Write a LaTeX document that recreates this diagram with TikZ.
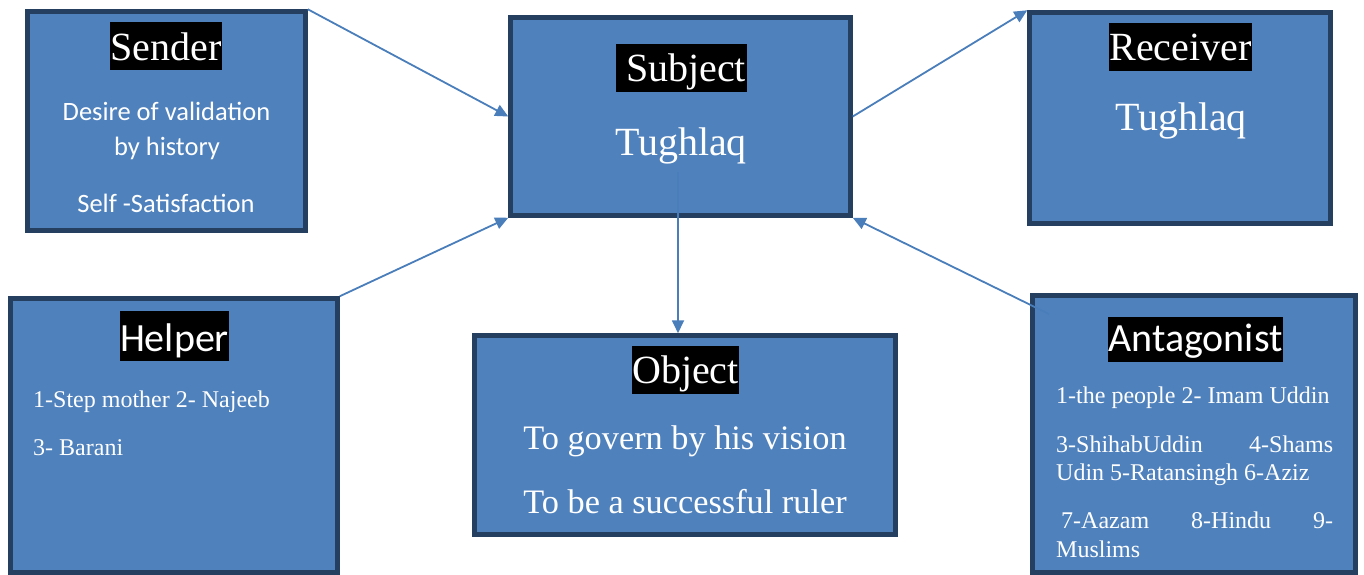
\documentclass[tikz,border=0pt]{standalone}
\usepackage{fontspec}
\setmainfont{Liberation Serif}
\newfontfamily\calfont{Carlito}
\usetikzlibrary{arrows.meta}
\definecolor{boxfill}{HTML}{4F81BD}
\definecolor{boxline}{HTML}{243F60}
\definecolor{arrowc}{HTML}{4A7EBB}
\tikzset{
  actbox/.style={draw=boxline, fill=boxfill, line width=4.5pt, rectangle, inner sep=0pt},
  titlebox/.style={fill=black, text=white, inner xsep=0.5pt, inner ysep=0pt, anchor=base},
  bodytxt/.style={text=white, inner sep=0pt, anchor=base},
  conn/.style={draw=arrowc, line width=1.8pt, -{Triangle[length=13pt,width=12pt]}, shorten >=0pt},
}
\newcommand{\fsz}[1]{\fontsize{#1}{#1}\selectfont}
\begin{document}
\begin{tikzpicture}[x=1pt,y=-1pt]
\useasboundingbox (0,0) rectangle (1364,575);
% boxes
\node[actbox, minimum width=278pt, minimum height=219pt] (sender) at (166.5,121) {};
\node[actbox, minimum width=340pt, minimum height=198pt] (subject) at (680.5,116.5) {};
\node[actbox, minimum width=301pt, minimum height=211pt] (receiver) at (1180,118) {};
\node[actbox, minimum width=327pt, minimum height=274pt] (helper) at (174,435.5) {};
\node[actbox, minimum width=421pt, minimum height=199pt] (object) at (685,435) {};
\node[actbox, minimum width=323pt, minimum height=277pt] (antag) at (1194,434) {};
% titles
\node[titlebox, text height=39pt, text depth=9pt] (tsender) at (166,61) {\fsz{40}Sender};
\node[titlebox, text height=38pt, text depth=10pt] (tsubject) at (681,82) {\fsz{40}\hspace{10pt}Subject};
\node[titlebox, text height=38pt, text depth=10pt] (treceiver) at (1180.5,61) {\fsz{40}Receiver};
\node[titlebox, text height=37pt, text depth=11pt] (tobject) at (685.5,383) {\fsz{40}Object};
\node[titlebox, text height=40pt, text depth=10pt] (thelper) at (174.5,351) {\calfont\fsz{40}Helper};
\node[titlebox, text height=34pt, text depth=11pt] (tantag) at (1195.5,351) {\calfont\fsz{40}Antagonist};
% sender body
\node[bodytxt] (s1) at (166.5,121) {\calfont\fsz{26.5}Desire of validation};
\node[bodytxt] (s2) at (167,155) {\calfont\fsz{26.5}by history};
\node[bodytxt] (s3) at (166,212) {\calfont\fsz{26.5}Self -Satisfaction};
% subject / receiver body
\node[bodytxt] (sub1) at (681,155) {\fsz{40}Tughlaq};
\node[bodytxt] (rec1) at (1181,130) {\fsz{40}Tughlaq};
% object body
\node[bodytxt] (o1) at (685,449) {\fsz{34.3}To govern by his vision};
\node[bodytxt] (o2) at (685,513) {\fsz{34.3}To be a successful ruler};
% helper body
\node[bodytxt, anchor=base west] (h1) at (33,407) {\fsz{24}1-Step mother 2- Najeeb};
\node[bodytxt, anchor=base west] (h2) at (33,455) {\fsz{24}3- Barani};
% antagonist body
\node[bodytxt, anchor=base west] (a1) at (1056,403) {\fsz{24}1-the people 2- Imam Uddin};
\node[bodytxt, anchor=base west] (a2) at (1056,452) {\fsz{24}\makebox[277pt][l]{3-ShihabUddin\hfill 4-Shams}};
\node[bodytxt, anchor=base west] (a3) at (1056,480) {\fsz{24}Udin 5-Ratansingh 6-Aziz};
\node[bodytxt, anchor=base west] (a4) at (1061,528) {\fsz{24}\makebox[272pt][l]{7-Aazam\hfill 8-Hindu\hfill 9-}};
\node[bodytxt, anchor=base west] (a5) at (1056,557) {\fsz{24}Muslims};
% connectors
\coordinate (antstart) at (1049,314);
\coordinate (substart) at (678,172);
\draw[conn] (sender.north east) -- (subject.west);
\draw[conn] (helper.north east) -- (subject.south west);
\draw[conn] (subject.east) -- (receiver.north west);
\draw[conn] (antstart) -- (subject.south east);
\draw[conn] (substart) -- (substart |- object.north);
\end{tikzpicture}
\end{document}
